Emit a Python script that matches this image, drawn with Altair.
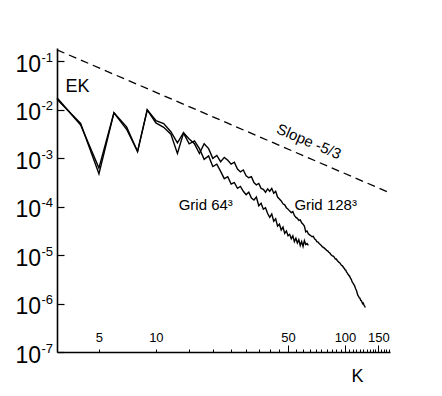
import altair as alt
import pandas as pd

FONT = "Liberation Sans"

# ---- data ----
grid128_k = list(range(3, 129))
grid128_log10_ek = [
    -1.78, -2.28, -3.32, -2.06, -2.35, -2.86, -2.00, -2.22, -2.28, -2.45,
    -2.68, -2.47, -2.60, -2.70, -2.90, -2.70, -2.80, -3.00, -2.94, -3.07,
    -2.98, -3.04, -3.12, -3.08, -3.22, -3.28, -3.24, -3.36, -3.40, -3.38,
    -3.50, -3.55, -3.52, -3.62, -3.64, -3.70, -3.63, -3.68, -3.62, -3.72,
    -3.68, -3.80, -3.84, -3.88, -3.94, -3.96, -4.02, -4.05, -4.09, -4.12,
    -4.10, -4.18, -4.22, -4.24, -4.28, -4.27, -4.33, -4.36, -4.40, -4.52,
    -4.50, -4.56, -4.58, -4.60, -4.62, -4.61, -4.66, -4.68, -4.72, -4.73,
    -4.76, -4.78, -4.80, -4.83, -4.84, -4.86, -4.88, -4.90, -4.91, -4.94,
    -4.95, -4.98, -5.00, -5.02, -5.02, -5.05, -5.08, -5.08, -5.11, -5.13,
    -5.15, -5.16, -5.19, -5.21, -5.22, -5.25, -5.27, -5.30, -5.31, -5.35,
    -5.37, -5.40, -5.42, -5.44, -5.48, -5.50, -5.55, -5.57, -5.60, -5.62,
    -5.66, -5.70, -5.73, -5.78, -5.83, -5.85, -5.88, -5.89, -5.93, -5.94,
    -5.97, -6.00, -5.99, -6.03, -6.05, -6.08,
]

grid64_k = list(range(3, 65))
grid64_log10_ek = [
    -1.75, -2.31, -3.20, -2.06, -2.40, -2.86, -2.00, -2.27, -2.36, -2.50,
    -2.90, -2.48, -2.70, -2.64, -2.80, -3.02, -2.95, -3.17, -3.12, -3.27,
    -3.42, -3.38, -3.53, -3.50, -3.62, -3.58, -3.68, -3.75, -3.70, -3.82,
    -3.86, -3.80, -3.98, -3.93, -4.05, -4.02, -4.14, -4.22, -4.15, -4.30,
    -4.25, -4.40, -4.36, -4.48, -4.42, -4.55, -4.50, -4.60, -4.57, -4.66,
    -4.60, -4.72, -4.65, -4.75, -4.68, -4.80, -4.72, -4.82, -4.70, -4.78,
    -4.76, -4.80,
]

slope_k = [3, 173]
slope_ek = [0.174, 1.93e-4]

grid_label_text = ["Grid 64³", "Grid 128³"]
grid_label_k = [13.2, 54.0]
grid_label_ek = [1.09e-4, 1.09e-4]

slope_label_text = ["Slope -5/3"]
slope_label_k = [64.4]
slope_label_ek = [2.23e-3]

x_tick_values = list(range(5, 175, 5))
x_labelled = [5, 10, 50, 100, 150]
x_long_ticks = [50, 100, 150]
y_tick_values = [1e-7, 1e-6, 1e-5, 1e-4, 1e-3, 1e-2, 1e-1]
y_tick_base = "10"
y_tick_exponents = ["-7", "-6", "-5", "-4", "-3", "-2", "-1"]

# ---- tables ----
lines_df = pd.concat([
    pd.DataFrame({"K": grid128_k, "EK": [10 ** v for v in grid128_log10_ek], "grid": "128"}),
    pd.DataFrame({"K": grid64_k, "EK": [10 ** v for v in grid64_log10_ek], "grid": "64"}),
])
slope_df = pd.DataFrame({"K": slope_k, "EK": slope_ek})
grid_lab_df = pd.DataFrame({"K": grid_label_k, "EK": grid_label_ek, "text": grid_label_text})
slope_lab_df = pd.DataFrame({"K": slope_label_k, "EK": slope_label_ek, "text": slope_label_text})

W, H = 333, 304
xscale = alt.Scale(type="log", domain=[3, 173], nice=False)
yscale = alt.Scale(type="log", domain=[1e-7, 0.19], nice=False)

labelled_js = "[" + ",".join(str(v) for v in x_labelled) + "]"
yexp_js = "[" + ",".join("'" + s + "'" for s in y_tick_exponents) + "]"

# main x axis: short inward ticks, labels above the axis line
x_axis = alt.Axis(
    orient="top", offset=-H, values=x_tick_values, grid=False,
    labelExpr=f"indexof({labelled_js}, datum.value) >= 0 ? format(datum.value, 'd') : ''",
    tickSize=3, tickColor="black", tickWidth=1, domainColor="black", domainWidth=1.6,
    labelFont=FONT, labelFontSize=13, labelColor="black", labelPadding=8,
    labelOverlap=False, labelFlush=False, labelBaseline="alphabetic",
    title="K", titleFont=FONT, titleFontSize=18, titleFontWeight="normal", titleColor="black",
    titleX=300, titleY=24, titleAngle=0, titleAlign="center", titleBaseline="middle",
)
# second x axis: long ticks only
x_axis_long = alt.Axis(
    orient="top", offset=-H, values=x_long_ticks, grid=False, labels=False,
    domain=False, title=None, tickSize=7, tickColor="black", tickWidth=1,
)
# main y axis: "10" part of the labels, domain and title
y_axis = alt.Axis(
    orient="left", values=y_tick_values, grid=False, ticks=False,
    labelExpr=f"'{y_tick_base}'",
    domainColor="black", domainWidth=1.6,
    labelFont=FONT, labelFontSize=23, labelColor="black", labelAlign="right",
    labelBaseline="alphabetic", labelOffset=10, labelPadding=16.5,
    labelOverlap=False, labelFlush=False,
    title="EK", titleFont=FONT, titleFontSize=18, titleFontWeight="normal", titleColor="black",
    titleX=20, titleY=38, titleAngle=0, titleAlign="center", titleBaseline="middle",
)
# exponent part of the labels
y_axis_exp = alt.Axis(
    orient="left", values=y_tick_values, grid=False, ticks=False, domain=False, title=None,
    labelExpr=f"{yexp_js}[round(log(datum.value) / LN10) + 7]",
    labelFont=FONT, labelFontSize=13, labelColor="black", labelAlign="right",
    labelBaseline="alphabetic", labelPadding=4.5, labelOverlap=False, labelFlush=False,
)
# inward decade ticks
y_axis_ticks = alt.Axis(
    orient="right", offset=-W, values=y_tick_values, grid=False, labels=False,
    domain=False, title=None, tickSize=7, tickColor="black", tickWidth=1.2,
)

lines = alt.Chart(lines_df).mark_line(color="black", strokeWidth=1.4).encode(
    x=alt.X("K:Q", scale=xscale, axis=x_axis),
    y=alt.Y("EK:Q", scale=yscale, axis=y_axis),
    detail="grid:N",
)
slope = alt.Chart(slope_df).mark_line(color="black", strokeWidth=1.3, strokeDash=[8, 5]).encode(
    x=alt.X("K:Q", scale=xscale, axis=x_axis_long),
    y=alt.Y("EK:Q", scale=yscale, axis=y_axis_ticks),
)
grid_labels = alt.Chart(grid_lab_df).mark_text(
    align="left", baseline="middle", font=FONT, fontSize=15, color="black"
).encode(
    x=alt.X("K:Q", scale=xscale, axis=None),
    y=alt.Y("EK:Q", scale=yscale, axis=y_axis_exp),
    text="text:N",
)
slope_label = alt.Chart(slope_lab_df).mark_text(
    align="center", baseline="middle", font=FONT, fontSize=15, color="black", angle=23
).encode(
    x=alt.X("K:Q", scale=xscale, axis=None),
    y=alt.Y("EK:Q", scale=yscale, axis=None),
    text="text:N",
)

chart = alt.layer(lines, slope, grid_labels, slope_label).resolve_axis(
    x="independent", y="independent"
).properties(
    width=W, height=H,
    autosize=alt.AutoSizeParams(type="none"),
    padding={"left": 49, "top": 40, "right": 44, "bottom": 34},
    background="white",
).configure_view(stroke=None)

chart.save("out.html", embed_options={"renderer": "svg", "actions": False})
